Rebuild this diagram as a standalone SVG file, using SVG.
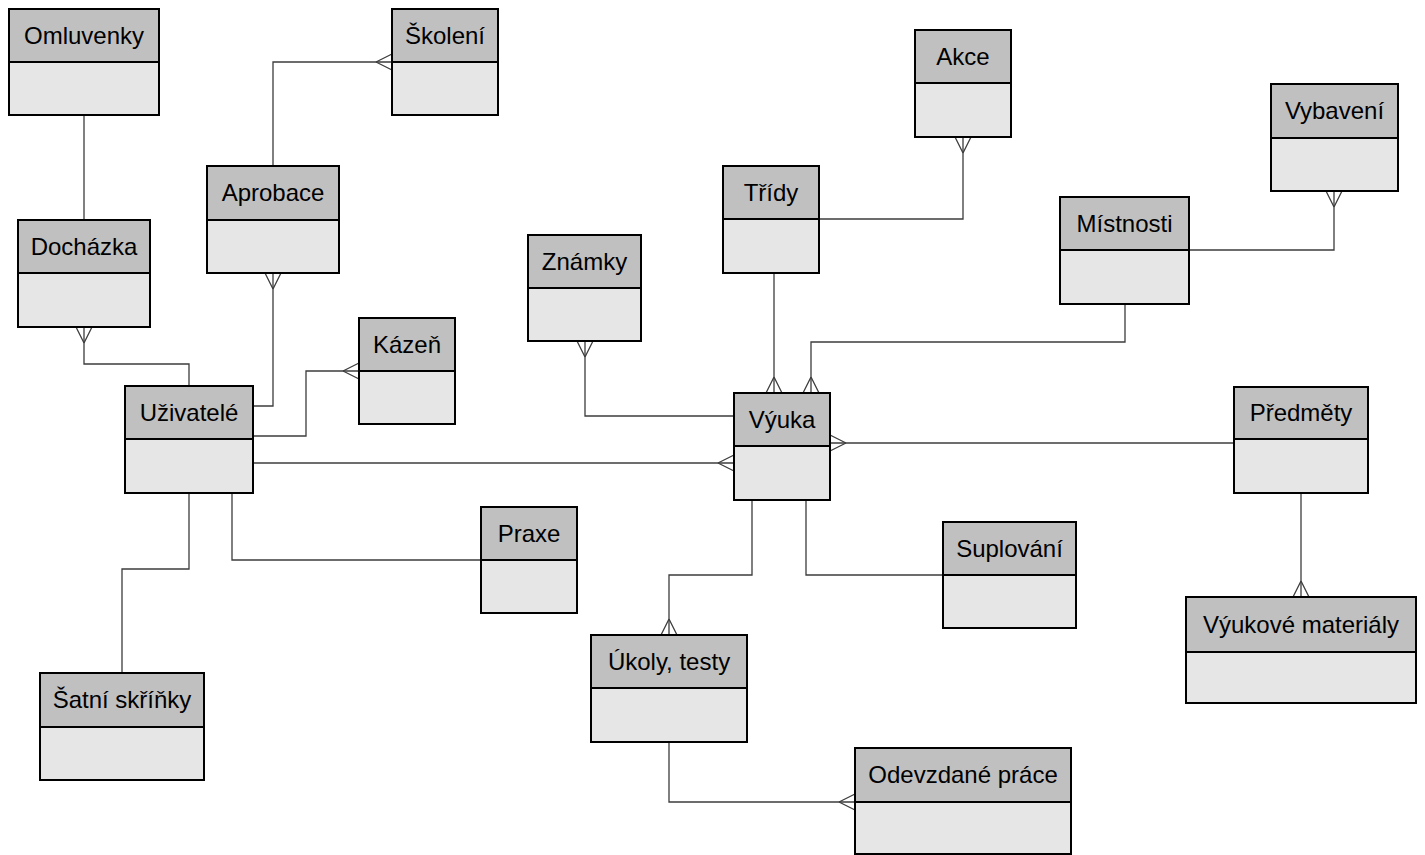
<svg xmlns="http://www.w3.org/2000/svg" width="1425" height="855" viewBox="0 0 1425 855">
  <style>
    .hd { fill: #c0c0c0; stroke: #000; stroke-width: 2; }
    .bd { fill: #e6e6e6; stroke: #000; stroke-width: 2; }
    .lbl { font-family: "Liberation Sans", Arial, sans-serif; font-size: 24px; fill: #000; text-anchor: middle; }
    .cn { fill: none; stroke: #3c3c3c; stroke-width: 1.3; }
  </style>
  <defs>
    <!-- crow's foot ("many") end, pointing into the entity box -->
    <marker id="many" markerUnits="userSpaceOnUse" viewBox="-17 -9 18 18" refX="0" refY="0" markerWidth="18" markerHeight="18" orient="auto" overflow="visible">
      <path d="M-16,0 L0,-8 M-16,0 L0,8" fill="none" stroke="#3c3c3c" stroke-width="1.3"/>
    </marker>
  </defs>

  <rect width="1425" height="855" fill="#fff"/>

  <g id="connectors">
    <path class="cn" d="M84,115 V220"/>
    <path class="cn" d="M273,166 V62 H392" marker-end="url(#many)"/>
    <path class="cn" d="M189,386 V364 H84 V327" marker-end="url(#many)"/>
    <path class="cn" d="M253,406 H273 V273" marker-end="url(#many)"/>
    <path class="cn" d="M253,436 H306 V371 H359" marker-end="url(#many)"/>
    <path class="cn" d="M253,463 H734" marker-end="url(#many)"/>
    <path class="cn" d="M189,493 V569 H122 V673"/>
    <path class="cn" d="M232,493 V560 H481"/>
    <path class="cn" d="M819,219 H963 V137" marker-end="url(#many)"/>
    <path class="cn" d="M774,273 V393" marker-end="url(#many)"/>
    <path class="cn" d="M1125,304 V342 H811 V393" marker-end="url(#many)"/>
    <path class="cn" d="M1189,250 H1334 V191" marker-end="url(#many)"/>
    <path class="cn" d="M734,416 H585 V341" marker-end="url(#many)"/>
    <path class="cn" d="M1234,443 H830" marker-end="url(#many)"/>
    <path class="cn" d="M1301,493 V597" marker-end="url(#many)"/>
    <path class="cn" d="M752,500 V575 H669 V635" marker-end="url(#many)"/>
    <path class="cn" d="M806,500 V575 H943"/>
    <path class="cn" d="M669,742 V802 H855" marker-end="url(#many)"/>
  </g>

  <g id="omluvenky">
    <rect class="bd" x="9" y="62" width="150" height="53"/>
    <rect class="hd" x="9" y="9" width="150" height="53"/>
    <text class="lbl" x="84" y="44">Omluvenky</text>
  </g>
  <g id="skoleni">
    <rect class="bd" x="392" y="62" width="106" height="53"/>
    <rect class="hd" x="392" y="9" width="106" height="53"/>
    <text class="lbl" x="445" y="44">Školení</text>
  </g>
  <g id="aprobace">
    <rect class="bd" x="207" y="220" width="132" height="53"/>
    <rect class="hd" x="207" y="166" width="132" height="54"/>
    <text class="lbl" x="273" y="201">Aprobace</text>
  </g>
  <g id="dochazka">
    <rect class="bd" x="18" y="273" width="132" height="54"/>
    <rect class="hd" x="18" y="220" width="132" height="53"/>
    <text class="lbl" x="84" y="255">Docházka</text>
  </g>
  <g id="kazen">
    <rect class="bd" x="359" y="371" width="96" height="53"/>
    <rect class="hd" x="359" y="318" width="96" height="53"/>
    <text class="lbl" x="407" y="353">Kázeň</text>
  </g>
  <g id="uzivatele">
    <rect class="bd" x="125" y="439" width="128" height="54"/>
    <rect class="hd" x="125" y="386" width="128" height="53"/>
    <text class="lbl" x="189" y="421">Uživatelé</text>
  </g>
  <g id="praxe">
    <rect class="bd" x="481" y="560" width="96" height="53"/>
    <rect class="hd" x="481" y="507" width="96" height="53"/>
    <text class="lbl" x="529" y="542">Praxe</text>
  </g>
  <g id="satni-skrinky">
    <rect class="bd" x="40" y="727" width="164" height="53"/>
    <rect class="hd" x="40" y="673" width="164" height="54"/>
    <text class="lbl" x="122" y="708">Šatní skříňky</text>
  </g>
  <g id="znamky">
    <rect class="bd" x="528" y="288" width="113" height="53"/>
    <rect class="hd" x="528" y="235" width="113" height="53"/>
    <text class="lbl" x="584.5" y="270">Známky</text>
  </g>
  <g id="tridy">
    <rect class="bd" x="723" y="219" width="96" height="54"/>
    <rect class="hd" x="723" y="166" width="96" height="53"/>
    <text class="lbl" x="771" y="201">Třídy</text>
  </g>
  <g id="akce">
    <rect class="bd" x="915" y="83" width="96" height="54"/>
    <rect class="hd" x="915" y="30" width="96" height="53"/>
    <text class="lbl" x="963" y="65">Akce</text>
  </g>
  <g id="mistnosti">
    <rect class="bd" x="1060" y="250" width="129" height="54"/>
    <rect class="hd" x="1060" y="197" width="129" height="53"/>
    <text class="lbl" x="1124.5" y="232">Místnosti</text>
  </g>
  <g id="vybaveni">
    <rect class="bd" x="1271" y="138" width="127" height="53"/>
    <rect class="hd" x="1271" y="84" width="127" height="54"/>
    <text class="lbl" x="1334.5" y="119">Vybavení</text>
  </g>
  <g id="vyuka">
    <rect class="bd" x="734" y="446" width="96" height="54"/>
    <rect class="hd" x="734" y="393" width="96" height="53"/>
    <text class="lbl" x="782" y="428">Výuka</text>
  </g>
  <g id="predmety">
    <rect class="bd" x="1234" y="439" width="134" height="54"/>
    <rect class="hd" x="1234" y="387" width="134" height="52"/>
    <text class="lbl" x="1301" y="421">Předměty</text>
  </g>
  <g id="vyukove-materialy">
    <rect class="bd" x="1186" y="652" width="230" height="51"/>
    <rect class="hd" x="1186" y="597" width="230" height="55"/>
    <text class="lbl" x="1301" y="633">Výukové materiály</text>
  </g>
  <g id="suplovani">
    <rect class="bd" x="943" y="575" width="133" height="53"/>
    <rect class="hd" x="943" y="522" width="133" height="53"/>
    <text class="lbl" x="1009.5" y="557">Suplování</text>
  </g>
  <g id="ukoly-testy">
    <rect class="bd" x="591" y="688" width="156" height="54"/>
    <rect class="hd" x="591" y="635" width="156" height="53"/>
    <text class="lbl" x="669" y="670">Úkoly, testy</text>
  </g>
  <g id="odevzdane-prace">
    <rect class="bd" x="855" y="802" width="216" height="52"/>
    <rect class="hd" x="855" y="748" width="216" height="54"/>
    <text class="lbl" x="963" y="783">Odevzdané práce</text>
  </g>
</svg>
